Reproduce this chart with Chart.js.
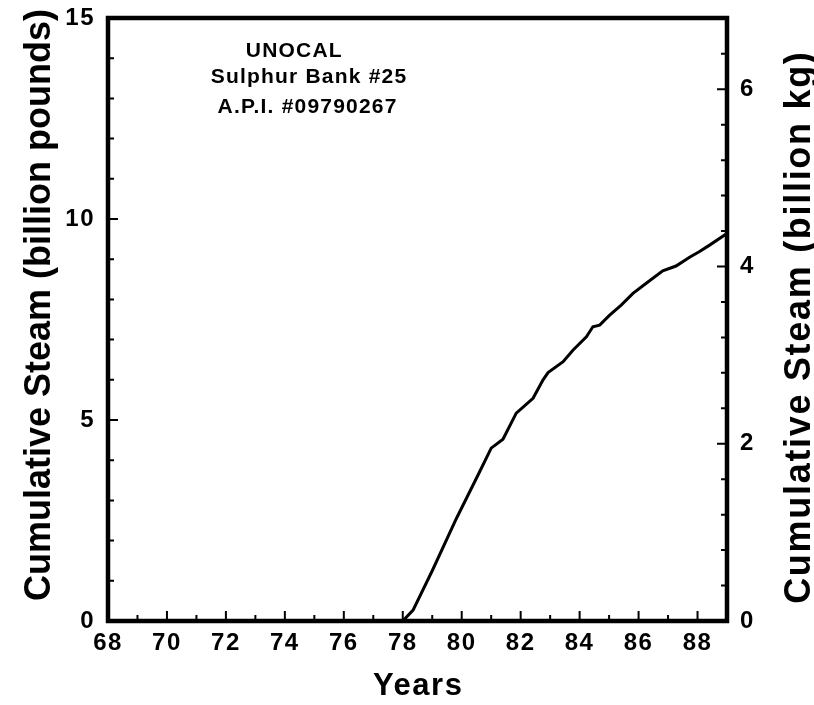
<!DOCTYPE html>
<html>
<head>
<meta charset="utf-8">
<script src="https://cdn.jsdelivr.net/npm/chart.js@4"></script>
<style>
  html, body { margin: 0; padding: 0; background: #fff; }
  #wrap { width: 814px; height: 705px; }
</style>
</head>
<body>
<div id="wrap"><canvas id="c" width="814" height="705"></canvas></div>
<script>
// Well header text
const headerLines = ['UNOCAL', 'Sulphur Bank #25', 'A.P.I. #09790267'];

// Axis titles
const xTitle = 'Years';
const yTitle = 'Cumulative Steam (billion pounds)';
const y2Title = 'Cumulative Steam (billion kg)';

// Cumulative steam production (billion pounds) by year (19xx)
const years = [78.0, 78.35, 79.0, 79.82, 80.6, 81.0, 81.4, 81.85, 82.42, 82.76, 82.93, 83.44, 83.78, 84.23, 84.45, 84.68, 85.02, 85.41, 85.81, 86.26, 86.82, 87.27, 87.73, 88.07, 88.41, 88.92, 89.0];
const steam = [0.0, 0.27, 1.25, 2.55, 3.7, 4.3, 4.52, 5.17, 5.54, 6.0, 6.18, 6.45, 6.74, 7.07, 7.32, 7.36, 7.61, 7.86, 8.15, 8.4, 8.71, 8.83, 9.05, 9.19, 9.35, 9.6, 9.65];

// Axis ranges and tick labels
const yearMin = 68, yearMax = 89;
const yearLabels = [68, 70, 72, 74, 76, 78, 80, 82, 84, 86, 88];
const poundLabels = [0, 5, 10, 15];
const kgLabels = [0, 2, 4, 6];
const LB_TO_KG = 0.45359237;

const INK = '#000';
const FONT = "'Liberation Sans', Arial, sans-serif";

const points = years.map((x, i) => ({ x, y: steam[i] }));

function spacedText(ctx, text, x, y, spacing) {
  ctx.letterSpacing = spacing + 'px';
  ctx.fillText(text, x + spacing / 2, y);
}

function verticalTitle(ctx, text, cx, cy, size, spacing) {
  ctx.save();
  ctx.translate(cx, cy);
  ctx.rotate(-Math.PI / 2);
  ctx.font = 'bold ' + size + 'px ' + FONT;
  ctx.textAlign = 'center';
  ctx.textBaseline = 'alphabetic';
  spacedText(ctx, text, 0, 0, spacing);
  ctx.restore();
}

// Frame, inward tick marks, header block and axis titles
const frameTicks = {
  id: 'frameTicks',
  beforeDraw(chart) {
    chart.ctx.letterSpacing = '1.5px';
  },
  afterDraw(chart) {
    const { ctx, chartArea: a, scales } = chart;
    const sx = scales.x, sy = scales.y, sk = scales.y2;
    ctx.save();
    ctx.strokeStyle = INK;
    ctx.fillStyle = INK;
    ctx.lineCap = 'butt';
    // tick marks
    ctx.lineWidth = 2;
    ctx.beginPath();
    for (let v = yearMin; v <= yearMax; v++) {
      const px = sx.getPixelForValue(v);
      const len = v % 2 === 0 ? 10 : 6;
      ctx.moveTo(px, a.bottom);
      ctx.lineTo(px, a.bottom - len);
    }
    for (let v = 0; v <= 15; v++) {
      const py = sy.getPixelForValue(v);
      const len = v % 5 === 0 ? 10 : 6;
      ctx.moveTo(a.left, py);
      ctx.lineTo(a.left + len, py);
    }
    for (let k = 0; k * 0.4 <= 15 * LB_TO_KG + 1e-9; k++) {
      const py = sk.getPixelForValue(k * 0.4);
      const len = k % 5 === 0 ? 10 : 6;
      ctx.moveTo(a.right, py);
      ctx.lineTo(a.right - len, py);
    }
    ctx.stroke();
    // frame
    ctx.lineWidth = 4.5;
    ctx.strokeRect(a.left, a.top, a.right - a.left, a.bottom - a.top);

    // header block
    ctx.font = 'bold 21px ' + FONT;
    ctx.textAlign = 'center';
    ctx.textBaseline = 'alphabetic';
    const headerX = [74.3, 74.8, 74.75];
    const headerY = [14.03, 13.38, 12.64];
    headerLines.forEach((t, i) => {
      spacedText(ctx, t, sx.getPixelForValue(headerX[i]), sy.getPixelForValue(headerY[i]), 1.2);
    });

    // axis titles
    ctx.font = 'bold 31px ' + FONT;
    spacedText(ctx, xTitle, (a.left + a.right) / 2, 695, 1.5);
    verticalTitle(ctx, yTitle, 50, 305, 36, 0);
    verticalTitle(ctx, y2Title, 810, 328, 36, 1.7);
    ctx.restore();
    ctx.letterSpacing = '0px';
  }
};

const tickFont = { family: FONT, size: 24, weight: 'bold' };

function noEdgePadding(s) {
  s.paddingTop = 0; s.paddingBottom = 0; s.paddingLeft = 0; s.paddingRight = 0;
}

new Chart(document.getElementById('c'), {
  type: 'line',
  data: {
    datasets: [{
      data: points,
      borderColor: INK,
      borderWidth: 3,
      pointRadius: 0,
      tension: 0,
      fill: false,
      yAxisID: 'y'
    }]
  },
  options: {
    responsive: false,
    animation: false,
    layout: { padding: { top: 18, right: 0, bottom: 0, left: 0 } },
    plugins: { legend: { display: false }, tooltip: { enabled: false } },
    scales: {
      x: {
        type: 'linear',
        min: yearMin, max: yearMax,
        afterBuildTicks: s => { s.ticks = yearLabels.map(v => ({ value: v })); },
        grid: { display: false, drawTicks: false },
        border: { display: false },
        ticks: { color: INK, font: tickFont, padding: 8, maxRotation: 0, autoSkip: false },
        afterFit: s => { s.height = 84; noEdgePadding(s); }
      },
      y: {
        type: 'linear', position: 'left',
        min: 0, max: 15,
        afterBuildTicks: s => { s.ticks = poundLabels.map(v => ({ value: v })); },
        grid: { display: false, drawTicks: false },
        border: { display: false },
        ticks: { color: INK, font: tickFont, padding: 13 },
        afterFit: s => { s.width = 108; noEdgePadding(s); }
      },
      y2: {
        type: 'linear', position: 'right',
        min: 0, max: 15 * LB_TO_KG,
        afterBuildTicks: s => { s.ticks = kgLabels.map(v => ({ value: v })); },
        grid: { display: false, drawTicks: false },
        border: { display: false },
        ticks: { color: INK, font: tickFont, padding: 13 },
        afterFit: s => { s.width = 814 - 727; noEdgePadding(s); }
      }
    }
  },
  plugins: [frameTicks]
});
</script>
</body>
</html>
